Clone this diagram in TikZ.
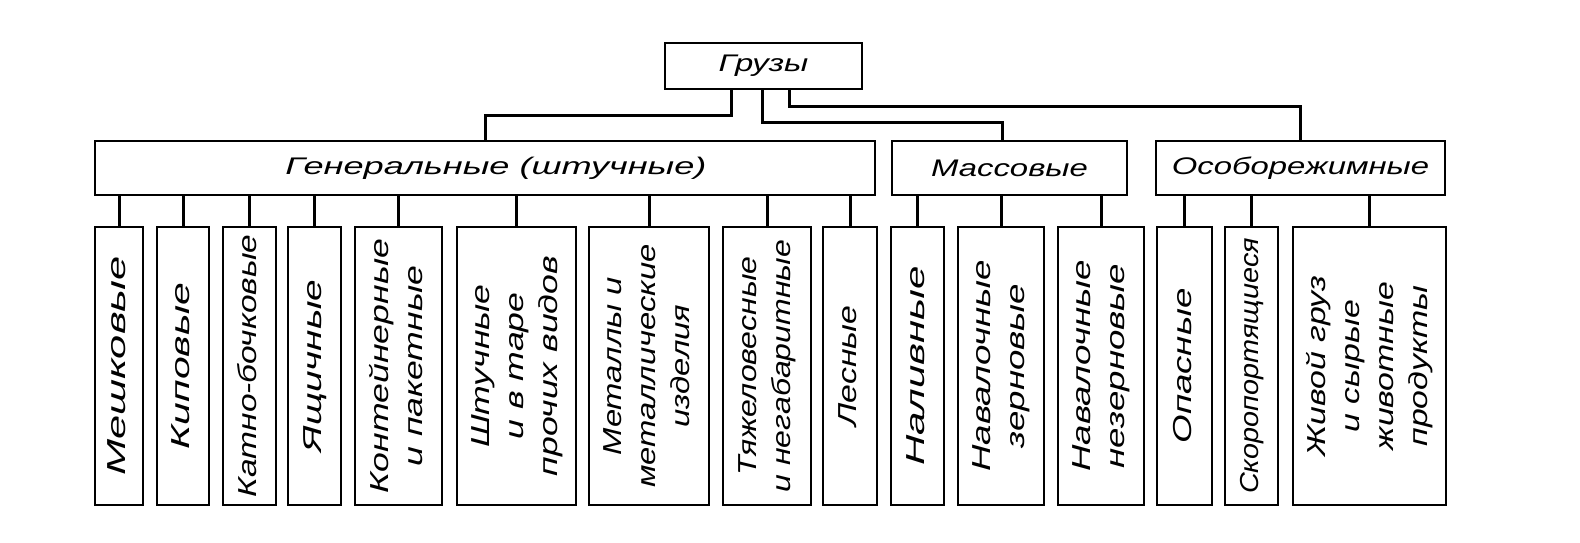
\documentclass[tikz,border=0pt]{standalone}
\usepackage{fontspec}
\usepackage{graphicx}
\setmainfont{Liberation Sans}[FakeStretch=1.37]
\usetikzlibrary{calc}
\newcommand{\vt}[2][1]{\rotatebox{90}{\scalebox{#1}[1]{\begin{tabular}{@{}c@{}}#2\end{tabular}}}}
\begin{document}
\begin{tikzpicture}[x=1pt,y=-1pt,
  every node/.style={font=\itshape\fontsize{24}{32}\selectfont},
  box/.style={draw,line width=1.4pt,rectangle,inner sep=0pt},
  catbox/.style={box,minimum height=54pt},
  leaf/.style={box,minimum height=278pt,font=\itshape\fontsize{26}{34}\selectfont},
  conn/.style={line width=3pt}]
\useasboundingbox[fill=white] (0,0) rectangle (1580,542);
% top
\node[box,minimum width=197pt,minimum height=46pt] (g) at (763.5,66) {Грузы};
% categories
\node[catbox,minimum width=780pt] (gen) at (485,168) {\hspace*{22pt}\scalebox{1.1}[1]{Генеральные (штучные)}};
\node[catbox,minimum width=235pt] (mas) at (1009.5,168) {Массовые};
\node[catbox,minimum width=289pt] (osb) at (1300.5,168) {Особорежимные};
% leaves
\node[leaf,minimum width=48pt]  (l1)  at (119,366)   {\vt[1.22]{Мешковые}};
\node[leaf,minimum width=52pt]  (l2)  at (183,366)   {\vt[1.15]{Киповые}};
\node[leaf,minimum width=53pt]  (l3)  at (249.5,366) {\vt[0.94]{Катно-бочковые}};
\node[leaf,minimum width=53pt]  (l4)  at (314.5,366) {\vt[1.09]{Ящичные}};
\node[leaf,minimum width=87pt]  (l5)  at (398.5,366) {\vt[1.0]{Контейнерные\\и пакетные}};
\node[leaf,minimum width=119pt] (l6)  at (516.5,366) {\vt[1.0]{Штучные\\и в таре\\прочих видов}};
\node[leaf,minimum width=120pt] (l7)  at (649,366)   {\vt[0.92]{Металлы и\\металлические\\изделия}};
\node[leaf,minimum width=88pt]  (l8)  at (767,366)   {\vt[0.9]{Тяжеловесные\\и негабаритные}};
\node[leaf,minimum width=54pt]  (l9)  at (850,366)   {\vt[0.95]{Лесные}};
\node[leaf,minimum width=53pt]  (l10) at (917.5,366) {\vt[1.18]{Наливные}};
\node[leaf,minimum width=86pt]  (l11) at (1001,366)  {\vt[1.03]{Навалочные\\зерновые}};
\node[leaf,minimum width=86pt]  (l12) at (1101,366)  {\vt[1.03]{Навалочные\\незерновые}};
\node[leaf,minimum width=55pt]  (l13) at (1184.5,366){\vt[1.03]{Опасные}};
\node[leaf,minimum width=53pt]  (l14) at (1251.5,366){\vt[0.81]{Скоропортящиеся}};
\node[leaf,minimum width=153pt] (l15) at (1369.5,366){\vt[0.95]{Живой груз\\и сырые\\животные\\продукты}};
% connectors from top
\draw[conn] ([xshift=-32.5pt]g.south) -- ++(0,26) -| (gen.north);
\draw[conn] ([xshift=-1.5pt]g.south) -- ++(0,33) -| ([xshift=-7pt]mas.north);
\draw[conn] ([xshift=25.5pt]g.south) -- ++(0,17) -| (osb.north);
% connectors to leaves
\foreach \l in {l1,l2,l3,l4,l5,l6,l7,l8,l9}
  \draw[conn] (\l.north) -- (\l.north |- gen.south);
\foreach \l in {l10,l11,l12}
  \draw[conn] (\l.north) -- (\l.north |- mas.south);
\foreach \l in {l13,l14,l15}
  \draw[conn] (\l.north) -- (\l.north |- osb.south);
\end{tikzpicture}
\end{document}
